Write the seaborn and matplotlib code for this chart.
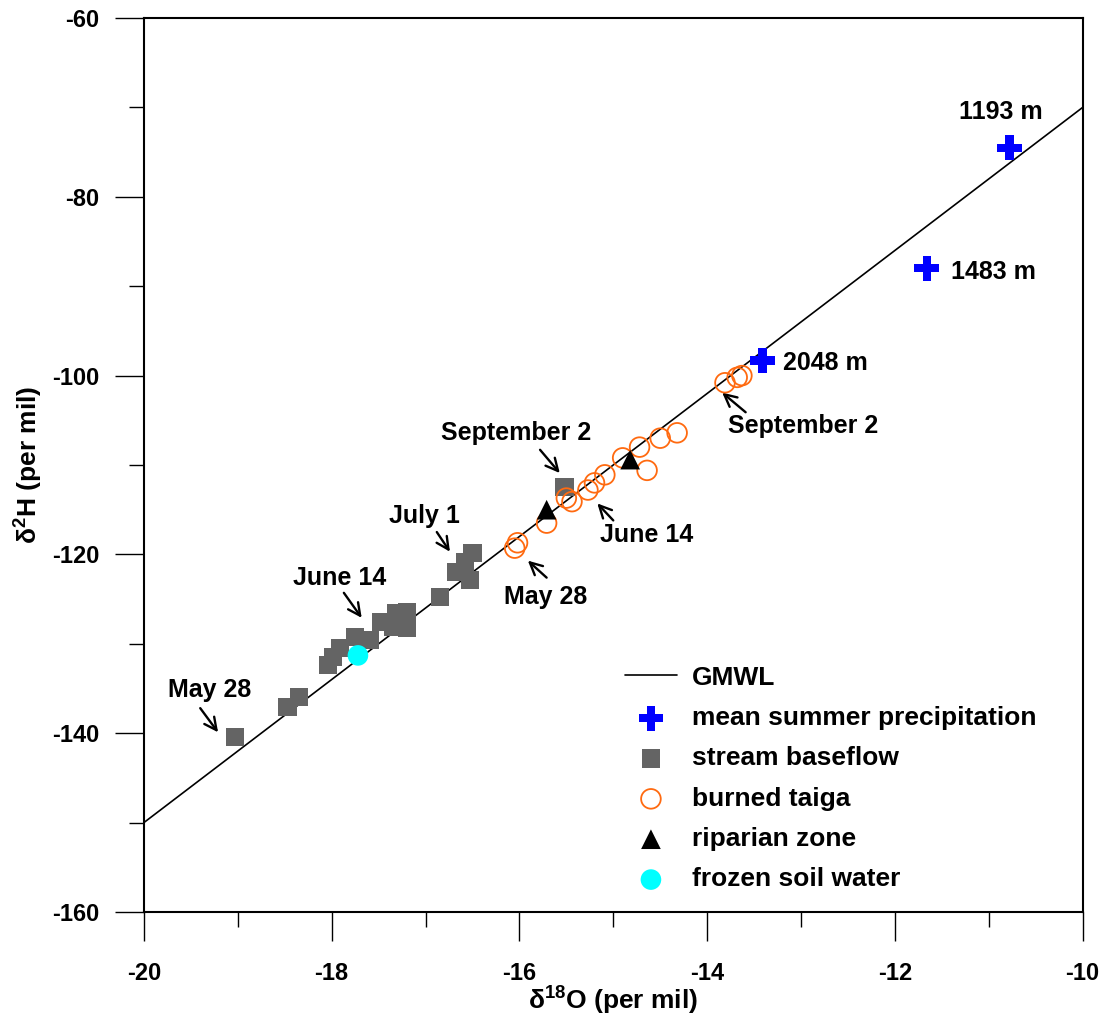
import matplotlib
matplotlib.use("Agg")
import matplotlib.pyplot as plt
import seaborn as sns

# ---- data ----
gmwl_x = [-20, -10]
gmwl_y = [-150, -70]

precip_x = [-10.78, -11.66, -13.41]
precip_y = [-74.5, -88.0, -98.3]
precip_labels = ["1193 m", "1483 m", "2048 m"]

stream_x = [-19.03, -18.47, -18.35, -18.04, -17.99, -17.91, -17.75, -17.59, -17.47,
            -17.35, -17.31, -17.20, -17.20, -16.85, -16.67, -16.53, -16.58, -16.50, -15.52]
stream_y = [-140.4, -137.1, -136.0, -132.4, -131.5, -130.5, -129.2, -129.6, -127.6,
            -128.1, -126.6, -126.4, -128.2, -124.8, -122.0, -122.9, -120.9, -119.8, -112.5]

taiga_x = [-16.02, -16.05, -15.71, -15.50, -15.44, -15.27, -15.20, -15.09, -14.90,
           -14.64, -14.72, -14.50, -14.32, -13.81, -13.68, -13.63]
taiga_y = [-118.7, -119.3, -116.5, -113.7, -114.1, -112.8, -112.0, -111.1, -109.2,
           -110.6, -108.0, -107.0, -106.4, -100.8, -100.2, -100.0]

riparian_x = [-15.71, -14.82]
riparian_y = [-115.0, -109.4]

frozen_x = [-17.72]
frozen_y = [-131.3]

x_ticks = [-20, -18, -16, -14, -12, -10]
y_ticks = [-160, -140, -120, -100, -80, -60]

sns.set_theme(style="white")
plt.rcParams["font.family"] = ["Liberation Sans", "DejaVu Sans"]
plt.rcParams["font.weight"] = "bold"
plt.rcParams["text.color"] = "black"
plt.rcParams["axes.labelcolor"] = "black"
plt.rcParams["xtick.color"] = "black"
plt.rcParams["ytick.color"] = "black"
plt.rcParams["mathtext.fontset"] = "custom"
plt.rcParams["mathtext.rm"] = "Liberation Sans:bold"
plt.rcParams["mathtext.bf"] = "Liberation Sans:bold"

fig = plt.figure(figsize=(11.07, 10.24), dpi=100)
ax = fig.add_axes([0.130, 0.1094, 0.848, 0.873])

sns.lineplot(x=gmwl_x, y=gmwl_y, ax=ax, color="black", lw=1.2, label="GMWL")
sns.scatterplot(x=precip_x, y=precip_y, ax=ax, marker="P", s=320, color="#0000FF",
                edgecolor="none", label="mean summer precipitation", zorder=5)
sns.scatterplot(x=stream_x, y=stream_y, ax=ax, marker="s", s=170, color="#646464",
                edgecolor="none", label="stream baseflow", zorder=3)
sns.scatterplot(x=taiga_x, y=taiga_y, ax=ax, marker="o", s=200, facecolor="none",
                edgecolor="#FF6A10", linewidth=1.3, label="burned taiga", zorder=4)
sns.scatterplot(x=riparian_x, y=riparian_y, ax=ax, marker="^", s=200, color="black",
                edgecolor="none", label="riparian zone", zorder=5)
sns.scatterplot(x=frozen_x, y=frozen_y, ax=ax, marker="o", s=220, color="#00FFFF",
                edgecolor="none", label="frozen soil water", zorder=5)

ax.set_xlim(-20, -10)
ax.set_ylim(-160, -60)
ax.set_xticks(x_ticks)
ax.set_yticks(y_ticks)
ax.set_xticks([-19, -17, -15, -13, -11], minor=True)
ax.set_yticks([-150, -130, -110, -90, -70], minor=True)
ax.set_xticklabels([str(v) for v in x_ticks])
ax.set_yticklabels([str(v) for v in y_ticks])
ax.tick_params(which="major", direction="out", length=21, width=1.0, colors="black",
               labelsize=17, bottom=True, left=True)
ax.tick_params(axis="x", which="major", pad=15)
ax.tick_params(axis="y", which="major", pad=11)
ax.tick_params(which="minor", direction="out", length=11, width=1.0, colors="black",
               bottom=True, left=True)
for lab in ax.get_xticklabels() + ax.get_yticklabels():
    lab.set_fontweight("bold")
for sp in ax.spines.values():
    sp.set_visible(True)
    sp.set_color("black")
    sp.set_linewidth(1.5)

ax.set_xlabel("δ$^{18}$O (per mil)", fontsize=19, fontweight="bold", labelpad=-1)
ax.set_ylabel("δ$^{2}$H (per mil)", fontsize=19, fontweight="bold", labelpad=6)

# precipitation elevation labels
ax.text(-10.87, -70.5, precip_labels[0], fontsize=18, fontweight="bold", ha="center", va="center")
ax.text(-11.40, -88.4, precip_labels[1], fontsize=18, fontweight="bold", ha="left", va="center")
ax.text(-13.19, -98.6, precip_labels[2], fontsize=18, fontweight="bold", ha="left", va="center")

# date annotations: (text, text pos, arrow tail, arrow head)
notes = [
    ("September 2", (-12.98, -105.6), (-13.59, -104.1), (-13.84, -101.9)),
    ("June 14", (-14.65, -117.8), (-15.00, -116.2), (-15.17, -114.3)),
    ("May 28", (-15.72, -124.8), (-15.71, -122.6), (-15.91, -120.7)),
    ("September 2", (-16.04, -106.4), (-15.78, -108.3), (-15.57, -110.9)),
    ("July 1", (-17.01, -115.7), (-16.88, -117.5), (-16.74, -119.7)),
    ("June 14", (-17.91, -122.6), (-17.87, -124.3), (-17.68, -127.1)),
    ("May 28", (-19.30, -135.2), (-19.40, -137.2), (-19.21, -139.9)),
]
for txt, tpos, tail, head in notes:
    ax.text(tpos[0], tpos[1], txt, fontsize=18, fontweight="bold", ha="center", va="center")
    ax.annotate("", xy=head, xytext=tail,
                arrowprops=dict(arrowstyle="->", lw=1.7, color="black", mutation_scale=22,
                                shrinkA=0, shrinkB=0))

leg = ax.legend(loc="upper left", bbox_to_anchor=(0.512, 0.2755), frameon=False,
                fontsize=19, handlelength=2.0, handletextpad=0.57, labelspacing=0.62,
                borderaxespad=0, borderpad=0)
for t in leg.get_texts():
    t.set_fontweight("bold")

fig.savefig("out.png", dpi=100)
